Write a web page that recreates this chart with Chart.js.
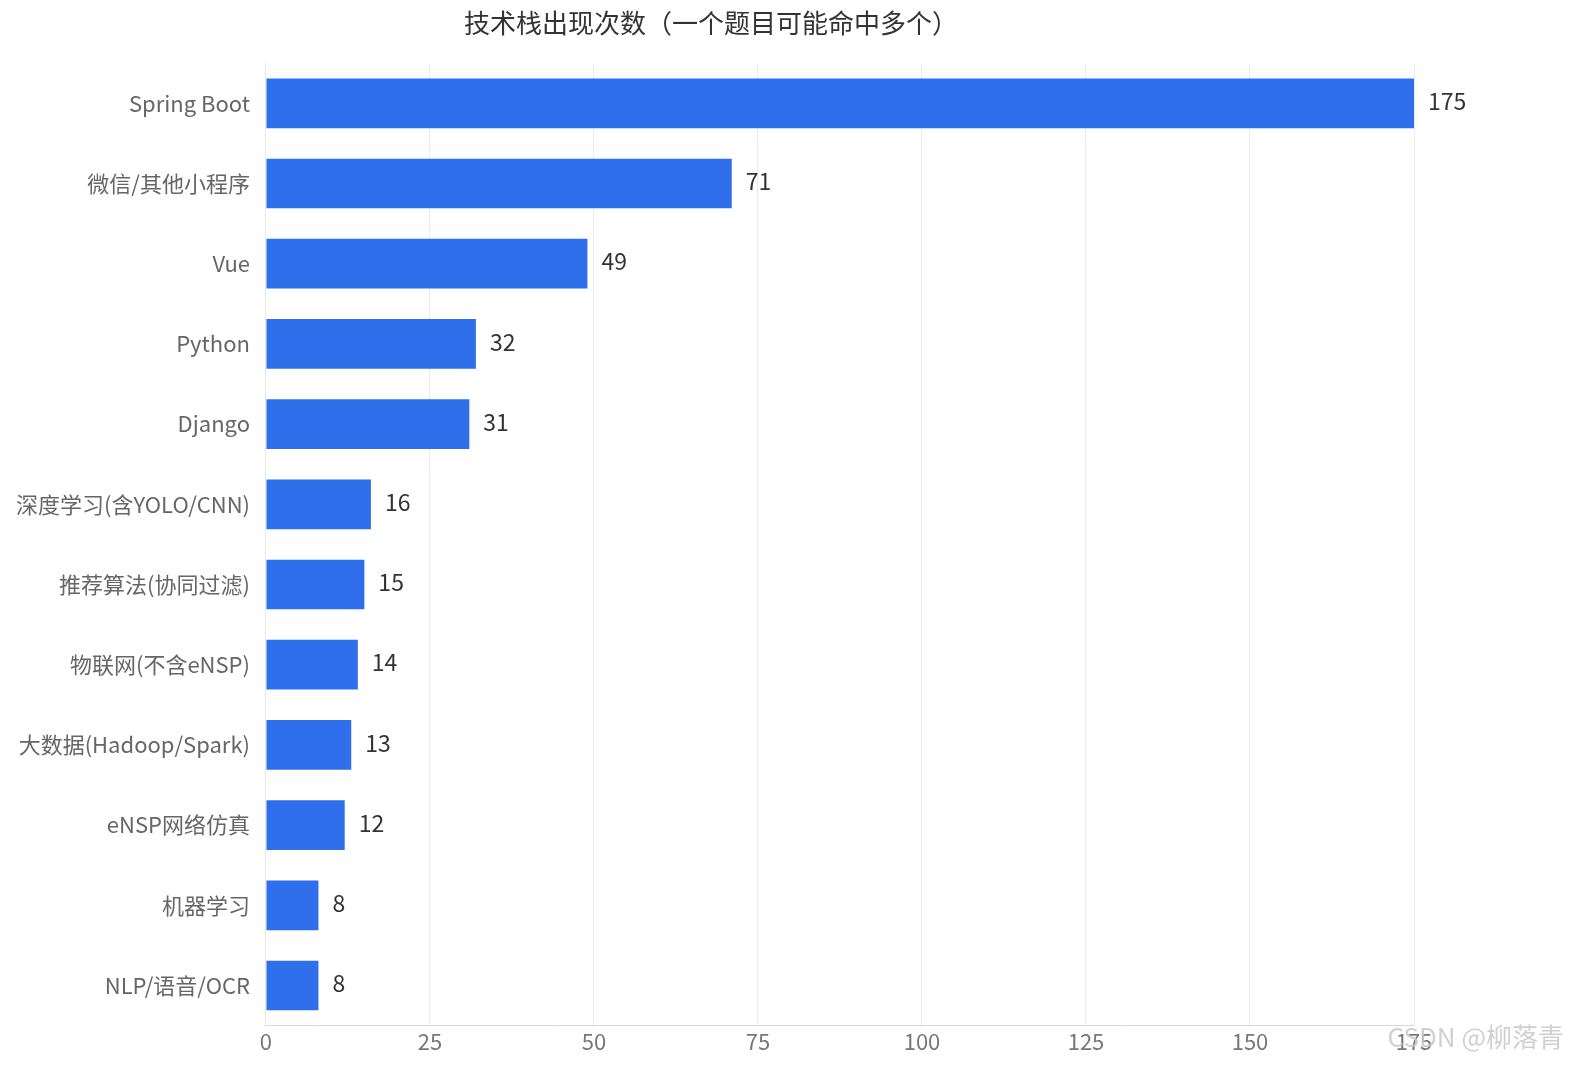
<!DOCTYPE html>
<html><head><meta charset="utf-8">
<script src="https://cdn.jsdelivr.net/npm/chart.js@4/dist/chart.umd.min.js"></script>
<style>html,body{margin:0;padding:0;background:#fff}#wrap{width:1584px;height:1072px;position:relative}
#wm{position:absolute;right:20px;bottom:18px;font:26px "Noto Sans CJK SC";color:rgba(200,200,200,0.85)}</style>
</head><body><div id="wrap"><canvas id="c" width="1584" height="1072"></canvas><div id="wm">CSDN @柳落青</div></div>
<script>
const categories=["Spring Boot","微信/其他小程序","Vue","Python","Django","深度学习(含YOLO/CNN)","推荐算法(协同过滤)","物联网(不含eNSP)","大数据(Hadoop/Spark)","eNSP网络仿真","机器学习","NLP/语音/OCR"];
const counts=[175,71,49,32,31,16,15,14,13,12,8,8];
const xTicks=[0,25,50,75,100,125,150,175];
const F='"Noto Sans CJK SC","Noto Sans",sans-serif';
const labelPlugin={id:'lbl',afterDatasetsDraw(ch){const ctx=ch.ctx;const m=ch.getDatasetMeta(0);ctx.save();ctx.font='23px '+F;ctx.fillStyle='#333';ctx.textBaseline='middle';
m.data.forEach((b,i)=>{ctx.fillText(String(counts[i]),b.x+14,b.y-2);});ctx.restore();}};
new Chart(document.getElementById('c'),{type:'bar',data:{labels:categories,datasets:[{data:counts,backgroundColor:'#2f6fec',barPercentage:0.62,categoryPercentage:1}]},
options:{indexAxis:'y',responsive:false,animation:false,devicePixelRatio:1,
layout:{padding:{right:170,top:0,bottom:14,left:8}},
plugins:{legend:{display:false},tooltip:{enabled:false},title:{display:true,text:'技术栈出现次数（一个题目可能命中多个）',font:{family:F,size:26,weight:'normal'},color:'#333',padding:{top:8,bottom:24}}},
scales:{x:{min:0,max:175,afterBuildTicks(a){a.ticks=xTicks.map(v=>({value:v}));},ticks:{font:{family:F,size:22},color:'#777',maxRotation:0},grid:{color:'#ececec',drawTicks:false},border:{color:'#d8d8d8'}},
y:{ticks:{font:{family:F,size:22},color:'#666',padding:8},grid:{display:false},border:{color:'#e6e6e6'}}}},plugins:[labelPlugin]});
</script>
</body></html>
